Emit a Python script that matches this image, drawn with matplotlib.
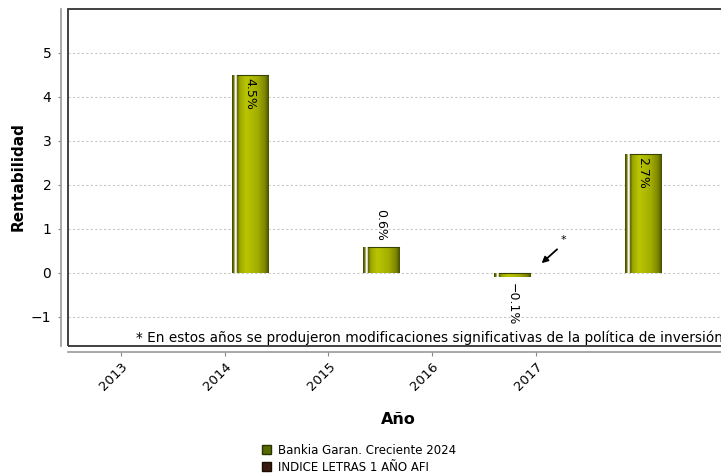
import numpy as np
import matplotlib
matplotlib.use('Agg')
import matplotlib.pyplot as plt
from matplotlib.colors import LinearSegmentedColormap
from matplotlib.patches import Rectangle, Patch

# ---- data ----
years = ['2013', '2014', '2015', '2016', '2017']
bankia = [np.nan, 4.5, 0.6, -0.1, 2.7]
indice = [np.nan, np.nan, np.nan, np.nan, np.nan]
value_labels = ['', '4.5%', '0.6%', '\u22120.1%', '2.7%']
series_names = ['Bankia Garan. Creciente 2024', 'INDICE LETRAS 1 A\u00d1O AFI']
yticks = [-1, 0, 1, 2, 3, 4, 5]
footnote = '* En estos a\u00f1os se produjeron modificaciones significativas de la pol\u00edtica de inversi\u00f3n'

plt.rcParams['font.family'] = ['DejaVu Sans']

W, H = 721, 475
fig = plt.figure(figsize=(W / 100, H / 100), dpi=100)
ax = fig.add_axes([68 / W, (H - 346) / H, 670 / W, (346 - 9) / H])

# spines first (set_position resets tick settings)
for s in ['top', 'right']:
    ax.spines[s].set_visible(False)
ax.spines['left'].set_position(('outward', 5))
ax.spines['bottom'].set_position(('outward', 4))
ax.spines['left'].set_color('#999999')
ax.spines['bottom'].set_color('#999999')
ax.spines['left'].set_linewidth(1.2)
ax.spines['bottom'].set_linewidth(1.2)
ax.add_patch(Rectangle((0, 0), 1, 1, transform=ax.transAxes, fill=False,
                       ec='#333333', lw=1.3, clip_on=False, zorder=6))

x = np.arange(len(years))
bar_w = 0.275

# gradient for bars
stops = [(0.0, '#3f4600'), (0.05, '#6d7700'), (0.085, '#ffffff'), (0.12, '#ffffff'),
         (0.135, '#4d5500'), (0.2, '#9aa400'), (0.38, '#bac600'), (0.7, '#a3ad00'),
         (0.9, '#7c8500'), (1.0, '#465000')]
cmap = LinearSegmentedColormap.from_list('barg', stops)
grad = np.linspace(0, 1, 200).reshape(1, -1)

bars = ax.bar(x, bankia, width=bar_w, color='none', edgecolor='none', zorder=3)
for rect, v in zip(bars, bankia):
    if np.isnan(v):
        continue
    x0 = rect.get_x()
    x1 = x0 + rect.get_width()
    y0, y1 = min(0, v), max(0, v)
    im = ax.imshow(grad, cmap=cmap, aspect='auto', extent=(x0, x1, y0, y1),
                   interpolation='bilinear', zorder=3)
    clip = Rectangle((x0, y0), x1 - x0, y1 - y0, transform=ax.transData)
    im.set_clip_path(clip)
    ax.plot([x0 + 0.135 * (x1 - x0), x1], [y1, y1], color='#3a4200', lw=0.8, zorder=4)

# value labels
for xi, v, lab in zip(x, bankia, value_labels):
    if np.isnan(v):
        continue
    if v > 1:
        ax.text(xi + 0.0, v - 0.06, lab, rotation=-90, ha='center', va='top', fontsize=9, zorder=5)
    elif v >= 0:
        ax.text(xi + 0.0, v + 0.12, lab, rotation=-90, ha='center', va='bottom', fontsize=9, zorder=5)
    else:
        ax.text(xi + 0.0, v - 0.12, lab, rotation=-90, ha='center', va='top', fontsize=9, zorder=5)

ax.set_xlim(-0.389, 4.725)
ax.set_ylim(-1.66, 6.0)

# grid
ax.set_yticks(yticks)
ax.yaxis.grid(True, color='#c8c8c8', lw=0.8, linestyle=(0, (2, 2)), zorder=0)
ax.set_axisbelow(True)

# tick labels (offset positions as in reference)
ax.set_xticks(x * 0.792 + 0.015)
ax.set_xticklabels(years, fontsize=9.5)
ax.tick_params(axis='x', length=3, color='#888888', pad=3)
ax.tick_params(axis='y', length=2, color='#888888', labelsize=10, pad=5)
for t in ax.get_xticklabels():
    t.set_rotation(45)
    t.set_ha('right')
    t.set_va('top')
    t.set_rotation_mode('anchor')

fig.text(18 / W, 1 - 177 / H, 'Rentabilidad', fontsize=11, fontweight='bold',
         rotation=90, ha='center', va='center')
fig.text(398 / W, 1 - 420 / H, 'A\u00f1o', fontsize=11.5, fontweight='bold',
         ha='center', va='center')

# footnote and arrow
ax.text(0.13, -1.47, footnote, fontsize=9.8, ha='left', va='center', zorder=5)
ax.annotate('', xy=(3.21, 0.18), xytext=(3.36, 0.58),
            arrowprops=dict(arrowstyle='-|>', color='black', lw=1.3, mutation_scale=9))
ax.text(3.39, 0.76, '*', fontsize=8, ha='center', va='center')

# legend
handles = [Patch(facecolor='#556b00', edgecolor='#2a3300', label=series_names[0]),
           Patch(facecolor='#3a1a10', edgecolor='#1a0a00', label=series_names[1])]
fig.legend(handles=handles, loc='upper left', bbox_to_anchor=(257 / W, 1 - 439 / H),
           frameon=False, fontsize=8.5, handlelength=0.75, handleheight=0.75,
           handletextpad=0.6, labelspacing=0.35, borderaxespad=0)

fig.savefig('out.png', dpi=100)
